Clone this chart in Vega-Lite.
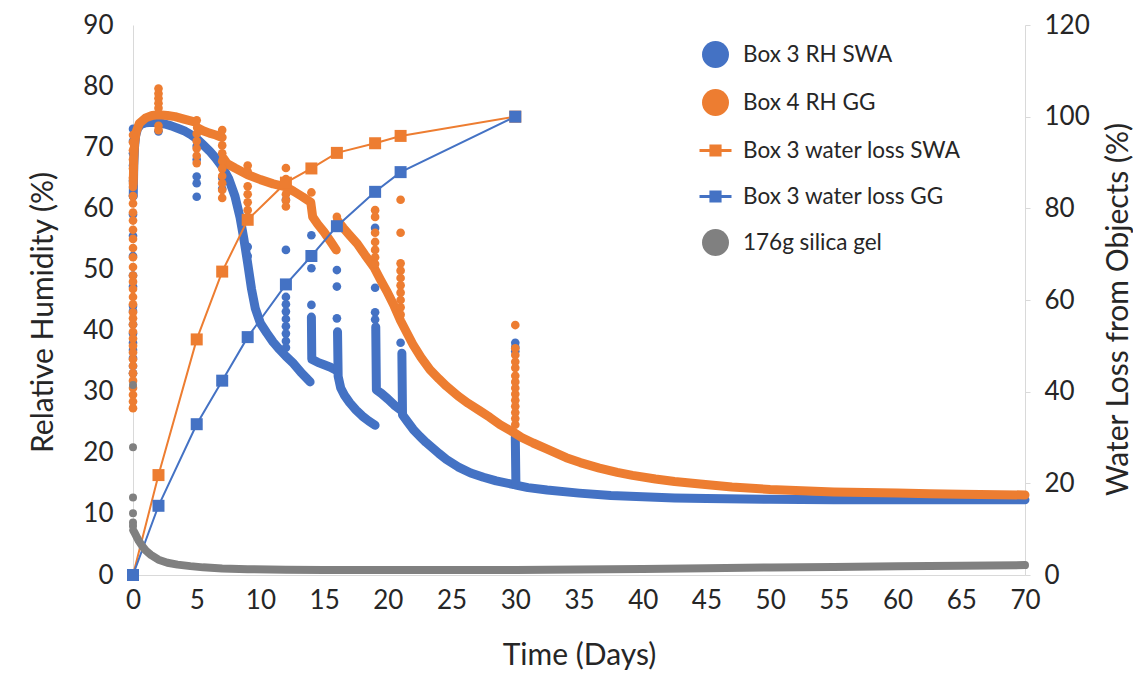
{
  "$schema": "https://vega.github.io/schema/vega-lite/v6.json",
  "width": 892,
  "height": 550,
  "autosize": "none",
  "padding": {"left": 133, "top": 25, "right": 108, "bottom": 100},
  "background": "white",
  "config": {
    "view": {"stroke": null},
    "font": "Lato",
    "axis": {"grid": false, "labelFont": "Lato", "titleFont": "Lato", "labelColor": "#262626", "titleColor": "#262626", "titleFontWeight": "normal", "domainColor": "#d9d9d9", "tickColor": "#d9d9d9"}
  },
  "datasets": {
    "blueCurve": [
      {"s":"Box 3 RH SWA","g":"A","d":0.02,"v":62},{"s":"Box 3 RH SWA","g":"A","d":0.06,"v":67},{"s":"Box 3 RH SWA","g":"A","d":0.12,"v":70},{"s":"Box 3 RH SWA","g":"A","d":0.2,"v":71.8},{"s":"Box 3 RH SWA","g":"A","d":0.35,"v":73},{"s":"Box 3 RH SWA","g":"A","d":0.6,"v":73.7},{"s":"Box 3 RH SWA","g":"A","d":1.0,"v":74},{"s":"Box 3 RH SWA","g":"A","d":1.5,"v":74.1},{"s":"Box 3 RH SWA","g":"A","d":2.0,"v":74},{"s":"Box 3 RH SWA","g":"A","d":2.5,"v":73.8},{"s":"Box 3 RH SWA","g":"A","d":3.0,"v":73.5},{"s":"Box 3 RH SWA","g":"A","d":3.5,"v":73.1},{"s":"Box 3 RH SWA","g":"A","d":4.0,"v":72.7},{"s":"Box 3 RH SWA","g":"A","d":4.5,"v":72.1},{"s":"Box 3 RH SWA","g":"A","d":5.0,"v":71.4},{"s":"Box 3 RH SWA","g":"A","d":5.5,"v":70.4},{"s":"Box 3 RH SWA","g":"A","d":6.0,"v":69.4},{"s":"Box 3 RH SWA","g":"A","d":6.5,"v":68.2},{"s":"Box 3 RH SWA","g":"A","d":7.0,"v":66.8},{"s":"Box 3 RH SWA","g":"A","d":7.5,"v":64.9},{"s":"Box 3 RH SWA","g":"A","d":8.0,"v":62},{"s":"Box 3 RH SWA","g":"A","d":8.4,"v":58.5},{"s":"Box 3 RH SWA","g":"A","d":8.7,"v":55},{"s":"Box 3 RH SWA","g":"A","d":9.0,"v":51},{"s":"Box 3 RH SWA","g":"A","d":9.3,"v":46.8},{"s":"Box 3 RH SWA","g":"A","d":9.6,"v":43.6},{"s":"Box 3 RH SWA","g":"A","d":10.0,"v":41.2},{"s":"Box 3 RH SWA","g":"A","d":10.5,"v":39.6},{"s":"Box 3 RH SWA","g":"A","d":11.0,"v":38.1},{"s":"Box 3 RH SWA","g":"A","d":11.5,"v":36.9},{"s":"Box 3 RH SWA","g":"A","d":12.0,"v":35.8},{"s":"Box 3 RH SWA","g":"A","d":12.6,"v":34.6},{"s":"Box 3 RH SWA","g":"A","d":13.2,"v":33.1},{"s":"Box 3 RH SWA","g":"A","d":13.9,"v":31.6},
      {"s":"Box 3 RH SWA","g":"B","d":14.0,"v":42.2},{"s":"Box 3 RH SWA","g":"B","d":14.03,"v":35.3},{"s":"Box 3 RH SWA","g":"B","d":14.5,"v":34.8},{"s":"Box 3 RH SWA","g":"B","d":15.0,"v":34.4},{"s":"Box 3 RH SWA","g":"B","d":15.5,"v":34.0},{"s":"Box 3 RH SWA","g":"B","d":15.95,"v":33.5},
      {"s":"Box 3 RH SWA","g":"C","d":16.05,"v":39.8},{"s":"Box 3 RH SWA","g":"C","d":16.1,"v":32.5},{"s":"Box 3 RH SWA","g":"C","d":16.3,"v":30.6},{"s":"Box 3 RH SWA","g":"C","d":16.6,"v":29.4},{"s":"Box 3 RH SWA","g":"C","d":17.0,"v":28.2},{"s":"Box 3 RH SWA","g":"C","d":17.5,"v":27.0},{"s":"Box 3 RH SWA","g":"C","d":18.0,"v":26.0},{"s":"Box 3 RH SWA","g":"C","d":18.5,"v":25.2},{"s":"Box 3 RH SWA","g":"C","d":19.0,"v":24.5},
      {"s":"Box 3 RH SWA","g":"D","d":19.05,"v":40.6},{"s":"Box 3 RH SWA","g":"D","d":19.1,"v":30.3},{"s":"Box 3 RH SWA","g":"D","d":19.5,"v":29.7},{"s":"Box 3 RH SWA","g":"D","d":20.0,"v":28.8},{"s":"Box 3 RH SWA","g":"D","d":20.5,"v":27.8},{"s":"Box 3 RH SWA","g":"D","d":21.0,"v":27.0},
      {"s":"Box 3 RH SWA","g":"E","d":21.1,"v":36.3},{"s":"Box 3 RH SWA","g":"E","d":21.15,"v":26.2},{"s":"Box 3 RH SWA","g":"E","d":21.5,"v":25.2},{"s":"Box 3 RH SWA","g":"E","d":22.0,"v":23.8},{"s":"Box 3 RH SWA","g":"E","d":22.5,"v":22.7},{"s":"Box 3 RH SWA","g":"E","d":23.0,"v":21.7},{"s":"Box 3 RH SWA","g":"E","d":23.5,"v":20.8},{"s":"Box 3 RH SWA","g":"E","d":24.0,"v":19.9},{"s":"Box 3 RH SWA","g":"E","d":24.6,"v":18.9},{"s":"Box 3 RH SWA","g":"E","d":25.5,"v":17.7},{"s":"Box 3 RH SWA","g":"E","d":26.5,"v":16.7},{"s":"Box 3 RH SWA","g":"E","d":27.5,"v":16.0},{"s":"Box 3 RH SWA","g":"E","d":28.5,"v":15.4},{"s":"Box 3 RH SWA","g":"E","d":29.9,"v":14.8},
      {"s":"Box 3 RH SWA","g":"F","d":30.0,"v":22.6},{"s":"Box 3 RH SWA","g":"F","d":30.05,"v":14.7},{"s":"Box 3 RH SWA","g":"F","d":31.0,"v":14.3},{"s":"Box 3 RH SWA","g":"F","d":32.5,"v":13.9},{"s":"Box 3 RH SWA","g":"F","d":35.0,"v":13.4},{"s":"Box 3 RH SWA","g":"F","d":37.5,"v":13.0},{"s":"Box 3 RH SWA","g":"F","d":40.0,"v":12.8},{"s":"Box 3 RH SWA","g":"F","d":42.5,"v":12.6},{"s":"Box 3 RH SWA","g":"F","d":45,"v":12.5},{"s":"Box 3 RH SWA","g":"F","d":50,"v":12.4},{"s":"Box 3 RH SWA","g":"F","d":55,"v":12.3},{"s":"Box 3 RH SWA","g":"F","d":60,"v":12.3},{"s":"Box 3 RH SWA","g":"F","d":65,"v":12.3},{"s":"Box 3 RH SWA","g":"F","d":70,"v":12.3}
    ],
    "orangeCurve": [
      {"s":"Box 4 RH GG","g":"A","d":0.02,"v":64},{"s":"Box 4 RH GG","g":"A","d":0.06,"v":68},{"s":"Box 4 RH GG","g":"A","d":0.12,"v":70.5},{"s":"Box 4 RH GG","g":"A","d":0.25,"v":72.5},{"s":"Box 4 RH GG","g":"A","d":0.5,"v":73.9},{"s":"Box 4 RH GG","g":"A","d":1.0,"v":74.8},{"s":"Box 4 RH GG","g":"A","d":1.5,"v":75.2},{"s":"Box 4 RH GG","g":"A","d":2.0,"v":75.3},{"s":"Box 4 RH GG","g":"A","d":2.7,"v":75.2},{"s":"Box 4 RH GG","g":"A","d":3.3,"v":75.0},{"s":"Box 4 RH GG","g":"A","d":4.0,"v":74.6},{"s":"Box 4 RH GG","g":"A","d":4.9,"v":74.1},
      {"s":"Box 4 RH GG","g":"B","d":5.05,"v":73.2},{"s":"Box 4 RH GG","g":"B","d":5.5,"v":72.7},{"s":"Box 4 RH GG","g":"B","d":6.0,"v":72.3},{"s":"Box 4 RH GG","g":"B","d":6.5,"v":72.0},{"s":"Box 4 RH GG","g":"B","d":7.0,"v":71.6},
      {"s":"Box 4 RH GG","g":"C","d":7.1,"v":68.2},{"s":"Box 4 RH GG","g":"C","d":7.4,"v":67.3},{"s":"Box 4 RH GG","g":"C","d":8.0,"v":66.6},{"s":"Box 4 RH GG","g":"C","d":9.0,"v":65.5},{"s":"Box 4 RH GG","g":"C","d":10.0,"v":64.7},{"s":"Box 4 RH GG","g":"C","d":11.0,"v":64.0},{"s":"Box 4 RH GG","g":"C","d":12.0,"v":63.5},{"s":"Box 4 RH GG","g":"C","d":12.6,"v":62.8},{"s":"Box 4 RH GG","g":"C","d":13.3,"v":61.9},{"s":"Box 4 RH GG","g":"C","d":13.95,"v":61.0},{"s":"Box 4 RH GG","g":"C","d":14.1,"v":58.6},{"s":"Box 4 RH GG","g":"C","d":14.5,"v":57.4},{"s":"Box 4 RH GG","g":"C","d":15.0,"v":56.1},{"s":"Box 4 RH GG","g":"C","d":15.5,"v":54.6},{"s":"Box 4 RH GG","g":"C","d":15.95,"v":53.2},
      {"s":"Box 4 RH GG","g":"D","d":16.05,"v":58.0},{"s":"Box 4 RH GG","g":"D","d":16.5,"v":56.8},{"s":"Box 4 RH GG","g":"D","d":17.0,"v":55.6},{"s":"Box 4 RH GG","g":"D","d":17.6,"v":54.2},{"s":"Box 4 RH GG","g":"D","d":18.2,"v":52.4},{"s":"Box 4 RH GG","g":"D","d":18.9,"v":50.4},{"s":"Box 4 RH GG","g":"D","d":19.4,"v":48.4},{"s":"Box 4 RH GG","g":"D","d":19.9,"v":46.5},{"s":"Box 4 RH GG","g":"D","d":20.5,"v":44.0},{"s":"Box 4 RH GG","g":"D","d":21.0,"v":41.6},{"s":"Box 4 RH GG","g":"D","d":21.5,"v":39.6},{"s":"Box 4 RH GG","g":"D","d":22.0,"v":37.6},{"s":"Box 4 RH GG","g":"D","d":22.6,"v":35.6},{"s":"Box 4 RH GG","g":"D","d":23.3,"v":33.6},{"s":"Box 4 RH GG","g":"D","d":24.0,"v":32.1},{"s":"Box 4 RH GG","g":"D","d":24.6,"v":30.9},{"s":"Box 4 RH GG","g":"D","d":25.5,"v":29.3},{"s":"Box 4 RH GG","g":"D","d":26.3,"v":28.1},{"s":"Box 4 RH GG","g":"D","d":27.2,"v":26.9},{"s":"Box 4 RH GG","g":"D","d":28.0,"v":25.8},{"s":"Box 4 RH GG","g":"D","d":28.8,"v":24.6},{"s":"Box 4 RH GG","g":"D","d":29.9,"v":23.3},{"s":"Box 4 RH GG","g":"D","d":30.5,"v":22.5},{"s":"Box 4 RH GG","g":"D","d":31.4,"v":21.6},{"s":"Box 4 RH GG","g":"D","d":32.5,"v":20.6},{"s":"Box 4 RH GG","g":"D","d":34.0,"v":19.2},{"s":"Box 4 RH GG","g":"D","d":35.1,"v":18.4},{"s":"Box 4 RH GG","g":"D","d":36.6,"v":17.5},{"s":"Box 4 RH GG","g":"D","d":38.0,"v":16.8},{"s":"Box 4 RH GG","g":"D","d":39.2,"v":16.3},{"s":"Box 4 RH GG","g":"D","d":41.0,"v":15.7},{"s":"Box 4 RH GG","g":"D","d":42.5,"v":15.3},{"s":"Box 4 RH GG","g":"D","d":44.5,"v":14.9},{"s":"Box 4 RH GG","g":"D","d":47.0,"v":14.4},{"s":"Box 4 RH GG","g":"D","d":50.0,"v":14.0},{"s":"Box 4 RH GG","g":"D","d":52.5,"v":13.8},{"s":"Box 4 RH GG","g":"D","d":55,"v":13.6},{"s":"Box 4 RH GG","g":"D","d":57.5,"v":13.5},{"s":"Box 4 RH GG","g":"D","d":60,"v":13.4},{"s":"Box 4 RH GG","g":"D","d":62.5,"v":13.3},{"s":"Box 4 RH GG","g":"D","d":65,"v":13.2},{"s":"Box 4 RH GG","g":"D","d":70,"v":13.1}
    ],
    "grayCurve": [
      {"s":"176g silica gel","g":"A","d":0.02,"v":7.3},{"s":"176g silica gel","g":"A","d":0.1,"v":7.0},{"s":"176g silica gel","g":"A","d":0.25,"v":6.4},{"s":"176g silica gel","g":"A","d":0.45,"v":5.6},{"s":"176g silica gel","g":"A","d":0.7,"v":4.8},{"s":"176g silica gel","g":"A","d":1.0,"v":4.0},{"s":"176g silica gel","g":"A","d":1.4,"v":3.3},{"s":"176g silica gel","g":"A","d":2.0,"v":2.5},{"s":"176g silica gel","g":"A","d":2.7,"v":2.0},{"s":"176g silica gel","g":"A","d":3.5,"v":1.7},{"s":"176g silica gel","g":"A","d":4.5,"v":1.45},{"s":"176g silica gel","g":"A","d":5.5,"v":1.25},{"s":"176g silica gel","g":"A","d":7,"v":1.05},{"s":"176g silica gel","g":"A","d":9,"v":0.95},{"s":"176g silica gel","g":"A","d":12,"v":0.85},{"s":"176g silica gel","g":"A","d":15,"v":0.8},{"s":"176g silica gel","g":"A","d":20,"v":0.8},{"s":"176g silica gel","g":"A","d":25,"v":0.8},{"s":"176g silica gel","g":"A","d":30,"v":0.82},{"s":"176g silica gel","g":"A","d":35,"v":0.9},{"s":"176g silica gel","g":"A","d":40,"v":1.0},{"s":"176g silica gel","g":"A","d":45,"v":1.12},{"s":"176g silica gel","g":"A","d":50,"v":1.22},{"s":"176g silica gel","g":"A","d":55,"v":1.32},{"s":"176g silica gel","g":"A","d":60,"v":1.42},{"s":"176g silica gel","g":"A","d":65,"v":1.52},{"s":"176g silica gel","g":"A","d":70,"v":1.62}
    ],
    "blueDots": [
      {"s":"Box 3 RH SWA","d":0,"v":73},{"s":"Box 3 RH SWA","d":0,"v":71},{"s":"Box 3 RH SWA","d":0,"v":69},{"s":"Box 3 RH SWA","d":0,"v":67},{"s":"Box 3 RH SWA","d":0,"v":64.5},{"s":"Box 3 RH SWA","d":0,"v":62},{"s":"Box 3 RH SWA","d":0,"v":59},{"s":"Box 3 RH SWA","d":0,"v":55.5},{"s":"Box 3 RH SWA","d":0,"v":52.2},{"s":"Box 3 RH SWA","d":0,"v":49},{"s":"Box 3 RH SWA","d":0,"v":47.2},{"s":"Box 3 RH SWA","d":0,"v":44},{"s":"Box 3 RH SWA","d":0,"v":43.2},{"s":"Box 3 RH SWA","d":0,"v":41},{"s":"Box 3 RH SWA","d":0,"v":39.5},{"s":"Box 3 RH SWA","d":0,"v":38},{"s":"Box 3 RH SWA","d":0,"v":36.8},{"s":"Box 3 RH SWA","d":0,"v":35.5},{"s":"Box 3 RH SWA","d":0,"v":34.2},{"s":"Box 3 RH SWA","d":0,"v":33},
      {"s":"Box 3 RH SWA","d":2,"v":72.6},
      {"s":"Box 3 RH SWA","d":5,"v":70.2},{"s":"Box 3 RH SWA","d":5,"v":68},{"s":"Box 3 RH SWA","d":5,"v":65.2},{"s":"Box 3 RH SWA","d":5,"v":64.1},{"s":"Box 3 RH SWA","d":5,"v":61.9},
      {"s":"Box 3 RH SWA","d":7,"v":65},{"s":"Box 3 RH SWA","d":7,"v":63.2},
      {"s":"Box 3 RH SWA","d":9,"v":53.7},{"s":"Box 3 RH SWA","d":9,"v":52.2},
      {"s":"Box 3 RH SWA","d":12,"v":61.4},{"s":"Box 3 RH SWA","d":12,"v":53.2},{"s":"Box 3 RH SWA","d":12,"v":47.5},{"s":"Box 3 RH SWA","d":12,"v":45.5},{"s":"Box 3 RH SWA","d":12,"v":44.3},{"s":"Box 3 RH SWA","d":12,"v":43.1},{"s":"Box 3 RH SWA","d":12,"v":41.9},{"s":"Box 3 RH SWA","d":12,"v":40.7},{"s":"Box 3 RH SWA","d":12,"v":39.5},{"s":"Box 3 RH SWA","d":12,"v":38.3},{"s":"Box 3 RH SWA","d":12,"v":37.2},
      {"s":"Box 3 RH SWA","d":14,"v":55.6},{"s":"Box 3 RH SWA","d":14,"v":50.2},{"s":"Box 3 RH SWA","d":14,"v":44.2},
      {"s":"Box 3 RH SWA","d":16,"v":49.9},{"s":"Box 3 RH SWA","d":16,"v":47.2},{"s":"Box 3 RH SWA","d":16,"v":42},
      {"s":"Box 3 RH SWA","d":19,"v":56.8},{"s":"Box 3 RH SWA","d":19,"v":47},{"s":"Box 3 RH SWA","d":19,"v":43},{"s":"Box 3 RH SWA","d":19,"v":41.8},
      {"s":"Box 3 RH SWA","d":21,"v":38},
      {"s":"Box 3 RH SWA","d":30,"v":38},{"s":"Box 3 RH SWA","d":30,"v":37.3},{"s":"Box 3 RH SWA","d":30,"v":36.6}
    ],
    "orangeDots": [
      {"s":"Box 4 RH GG","d":0,"v":72},{"s":"Box 4 RH GG","d":0,"v":70.8},{"s":"Box 4 RH GG","d":0,"v":69.5},{"s":"Box 4 RH GG","d":0,"v":68},{"s":"Box 4 RH GG","d":0,"v":66.5},{"s":"Box 4 RH GG","d":0,"v":65},{"s":"Box 4 RH GG","d":0,"v":63.5},{"s":"Box 4 RH GG","d":0,"v":62},{"s":"Box 4 RH GG","d":0,"v":60.8},{"s":"Box 4 RH GG","d":0,"v":59.3},{"s":"Box 4 RH GG","d":0,"v":58},{"s":"Box 4 RH GG","d":0,"v":56.5},{"s":"Box 4 RH GG","d":0,"v":55},{"s":"Box 4 RH GG","d":0,"v":53.5},{"s":"Box 4 RH GG","d":0,"v":52},{"s":"Box 4 RH GG","d":0,"v":50.4},{"s":"Box 4 RH GG","d":0,"v":49},{"s":"Box 4 RH GG","d":0,"v":48},{"s":"Box 4 RH GG","d":0,"v":46.8},{"s":"Box 4 RH GG","d":0,"v":45.5},{"s":"Box 4 RH GG","d":0,"v":44.3},{"s":"Box 4 RH GG","d":0,"v":43},{"s":"Box 4 RH GG","d":0,"v":42},{"s":"Box 4 RH GG","d":0,"v":41},{"s":"Box 4 RH GG","d":0,"v":39.8},{"s":"Box 4 RH GG","d":0,"v":38.7},{"s":"Box 4 RH GG","d":0,"v":37.5},{"s":"Box 4 RH GG","d":0,"v":36.4},{"s":"Box 4 RH GG","d":0,"v":35.3},{"s":"Box 4 RH GG","d":0,"v":34.2},{"s":"Box 4 RH GG","d":0,"v":33},{"s":"Box 4 RH GG","d":0,"v":31.8},{"s":"Box 4 RH GG","d":0,"v":30.6},{"s":"Box 4 RH GG","d":0,"v":29.5},{"s":"Box 4 RH GG","d":0,"v":28.4},{"s":"Box 4 RH GG","d":0,"v":27.3},
      {"s":"Box 4 RH GG","d":2,"v":79.6},{"s":"Box 4 RH GG","d":2,"v":78.8},{"s":"Box 4 RH GG","d":2,"v":78},{"s":"Box 4 RH GG","d":2,"v":77.2},{"s":"Box 4 RH GG","d":2,"v":76.4},{"s":"Box 4 RH GG","d":2,"v":73.5},{"s":"Box 4 RH GG","d":2,"v":72.8},
      {"s":"Box 4 RH GG","d":5,"v":74.4},{"s":"Box 4 RH GG","d":5,"v":72.2},{"s":"Box 4 RH GG","d":5,"v":71},{"s":"Box 4 RH GG","d":5,"v":69.8},{"s":"Box 4 RH GG","d":5,"v":68.6},{"s":"Box 4 RH GG","d":5,"v":67.4},
      {"s":"Box 4 RH GG","d":7,"v":72.8},{"s":"Box 4 RH GG","d":7,"v":70.3},{"s":"Box 4 RH GG","d":7,"v":69},{"s":"Box 4 RH GG","d":7,"v":67.7},{"s":"Box 4 RH GG","d":7,"v":66.5},{"s":"Box 4 RH GG","d":7,"v":65.3},{"s":"Box 4 RH GG","d":7,"v":64.1},{"s":"Box 4 RH GG","d":7,"v":63},{"s":"Box 4 RH GG","d":7,"v":61.7},
      {"s":"Box 4 RH GG","d":9,"v":67},{"s":"Box 4 RH GG","d":9,"v":66},{"s":"Box 4 RH GG","d":9,"v":63.6},{"s":"Box 4 RH GG","d":9,"v":62.3},{"s":"Box 4 RH GG","d":9,"v":61},{"s":"Box 4 RH GG","d":9,"v":59.7},
      {"s":"Box 4 RH GG","d":12,"v":66.6},{"s":"Box 4 RH GG","d":12,"v":64.8},{"s":"Box 4 RH GG","d":12,"v":62.3},{"s":"Box 4 RH GG","d":12,"v":61.3},{"s":"Box 4 RH GG","d":12,"v":60.3},
      {"s":"Box 4 RH GG","d":14,"v":62.6},
      {"s":"Box 4 RH GG","d":16,"v":58.6},
      {"s":"Box 4 RH GG","d":19,"v":59.7},{"s":"Box 4 RH GG","d":19,"v":58.6},{"s":"Box 4 RH GG","d":19,"v":56},{"s":"Box 4 RH GG","d":19,"v":54.5},{"s":"Box 4 RH GG","d":19,"v":53.2},{"s":"Box 4 RH GG","d":19,"v":52},{"s":"Box 4 RH GG","d":19,"v":50.9},
      {"s":"Box 4 RH GG","d":21,"v":61.4},{"s":"Box 4 RH GG","d":21,"v":56},{"s":"Box 4 RH GG","d":21,"v":51},{"s":"Box 4 RH GG","d":21,"v":49.8},{"s":"Box 4 RH GG","d":21,"v":48.6},{"s":"Box 4 RH GG","d":21,"v":47.4},{"s":"Box 4 RH GG","d":21,"v":46.2},{"s":"Box 4 RH GG","d":21,"v":45},{"s":"Box 4 RH GG","d":21,"v":43.8},{"s":"Box 4 RH GG","d":21,"v":42.6},
      {"s":"Box 4 RH GG","d":30,"v":40.9},{"s":"Box 4 RH GG","d":30,"v":37.1},{"s":"Box 4 RH GG","d":30,"v":36},{"s":"Box 4 RH GG","d":30,"v":34.9},{"s":"Box 4 RH GG","d":30,"v":33.9},{"s":"Box 4 RH GG","d":30,"v":32.6},{"s":"Box 4 RH GG","d":30,"v":31.6},{"s":"Box 4 RH GG","d":30,"v":30.6},{"s":"Box 4 RH GG","d":30,"v":29.6},{"s":"Box 4 RH GG","d":30,"v":28.6},{"s":"Box 4 RH GG","d":30,"v":27.6},{"s":"Box 4 RH GG","d":30,"v":26.6},{"s":"Box 4 RH GG","d":30,"v":25.6},{"s":"Box 4 RH GG","d":30,"v":24.6}
    ],
    "grayDots": [
      {"s":"176g silica gel","d":0,"v":31.1},{"s":"176g silica gel","d":0,"v":20.9},{"s":"176g silica gel","d":0,"v":12.7},{"s":"176g silica gel","d":0,"v":10.1},{"s":"176g silica gel","d":0,"v":8.6},{"s":"176g silica gel","d":0,"v":8.0}
    ],
    "waterLoss": [
      {"s":"Box 3 water loss SWA","d":0,"v":0},{"s":"Box 3 water loss SWA","d":2,"v":21.8},{"s":"Box 3 water loss SWA","d":5,"v":51.4},{"s":"Box 3 water loss SWA","d":7,"v":66.2},{"s":"Box 3 water loss SWA","d":9,"v":77.5},{"s":"Box 3 water loss SWA","d":12,"v":85.6},{"s":"Box 3 water loss SWA","d":14,"v":88.7},{"s":"Box 3 water loss SWA","d":16,"v":92.1},{"s":"Box 3 water loss SWA","d":19,"v":94.2},{"s":"Box 3 water loss SWA","d":21,"v":95.8},{"s":"Box 3 water loss SWA","d":30,"v":100},
      {"s":"Box 3 water loss GG","d":0,"v":0},{"s":"Box 3 water loss GG","d":2,"v":15.1},{"s":"Box 3 water loss GG","d":5,"v":32.9},{"s":"Box 3 water loss GG","d":7,"v":42.4},{"s":"Box 3 water loss GG","d":9,"v":51.9},{"s":"Box 3 water loss GG","d":12,"v":63.4},{"s":"Box 3 water loss GG","d":14,"v":69.6},{"s":"Box 3 water loss GG","d":16,"v":76.1},{"s":"Box 3 water loss GG","d":19,"v":83.6},{"s":"Box 3 water loss GG","d":21,"v":87.9},{"s":"Box 3 water loss GG","d":30,"v":100}
    ]
  },
  "encoding": {
    "x": {"field": "d", "type": "quantitative", "scale": {"domain": [0, 70], "nice": false},
      "axis": {"title": "Time (Days)", "values": [0,5,10,15,20,25,30,35,40,45,50,55,60,65,70], "labelFontSize": 26, "titleFontSize": 30, "labelPadding": 12, "titlePadding": 27, "ticks": false, "labelFlush": false}},
    "color": {"field": "s", "type": "nominal",
      "scale": {"domain": ["Box 3 RH SWA", "Box 4 RH GG", "Box 3 water loss SWA", "Box 3 water loss GG", "176g silica gel"], "range": ["#4472C4", "#ED7D31", "#ED7D31", "#4472C4", "#808080"]},
      "legend": {"title": null, "orient": "none", "legendX": 569, "legendY": 16, "symbolSize": 1024, "labelFontSize": 22.5, "labelFont": "Lato", "labelColor": "#262626", "labelLimit": 500, "rowPadding": 21, "labelOffset": 14, "padding": 0,
        "encode": {"symbols": {"update": {
          "shape": {"signal": "test(/water/, datum.value) ? 'M-1,-0.1H1V0.1H-1Z M-0.38,-0.38H0.38V0.38H-0.38Z' : 'circle'"},
          "size": {"signal": "test(/water/, datum.value) ? 1024 : 729"},
          "fill": {"signal": "datum.value === 'Box 3 RH SWA' ? '#2E75B6' : (datum.value === 'Box 4 RH GG' || datum.value === 'Box 3 water loss SWA') ? '#ED7D31' : datum.value === 'Box 3 water loss GG' ? '#4472C4' : '#808080'"},
          "stroke": {"value": "transparent"},
          "strokeWidth": {"value": 0},
          "opacity": {"value": 1}
        }}}}}
  },
  "layer": [
    {
      "encoding": {"y": {"field": "v", "type": "quantitative", "scale": {"domain": [0, 90], "nice": false},
        "axis": {"title": "Relative Humidity (%)", "values": [0,10,20,30,40,50,60,70,80,90], "labelFontSize": 26, "titleFontSize": 30, "labelPadding": 20, "titlePadding": 24, "titleY": 287, "ticks": false}}},
      "layer": [
        {"data": {"name": "blueCurve"}, "mark": {"type": "line", "strokeWidth": 9, "strokeCap": "round", "strokeJoin": "round"}, "encoding": {"detail": {"field": "g"}}},
        {"data": {"name": "blueDots"}, "mark": {"type": "point", "filled": true, "size": 75, "opacity": 1, "shape": "circle"}},
        {"data": {"name": "orangeCurve"}, "mark": {"type": "line", "strokeWidth": 9, "strokeCap": "round", "strokeJoin": "round"}, "encoding": {"detail": {"field": "g"}}},
        {"data": {"name": "orangeDots"}, "mark": {"type": "point", "filled": true, "size": 75, "opacity": 1, "shape": "circle"}}
      ]
    },
    {
      "data": {"name": "waterLoss"},
      "encoding": {"y": {"field": "v", "type": "quantitative", "scale": {"domain": [0, 120], "nice": false},
        "axis": {"orient": "right", "title": "Water Loss from Objects (%)", "values": [0,20,40,60,80,100,120], "labelFontSize": 26, "titleFontSize": 30, "labelPadding": 14, "titlePadding": 44, "titleY": 284, "tickSize": 5, "titleAngle": 270}}},
      "layer": [
        {"mark": {"type": "line", "strokeWidth": 2}},
        {"mark": {"type": "point", "filled": true, "size": 144, "opacity": 1, "shape": "square"}}
      ]
    },
    {
      "encoding": {"y": {"field": "v", "type": "quantitative", "scale": {"domain": [0, 90], "nice": false}, "axis": null}},
      "layer": [
        {"data": {"name": "grayCurve"}, "mark": {"type": "line", "strokeWidth": 8, "strokeCap": "round", "strokeJoin": "round"}, "encoding": {"detail": {"field": "g"}}},
        {"data": {"name": "grayDots"}, "mark": {"type": "point", "filled": true, "size": 64, "opacity": 1, "shape": "circle"}}
      ]
    }
  ],
  "resolve": {"scale": {"y": "independent"}}
}
